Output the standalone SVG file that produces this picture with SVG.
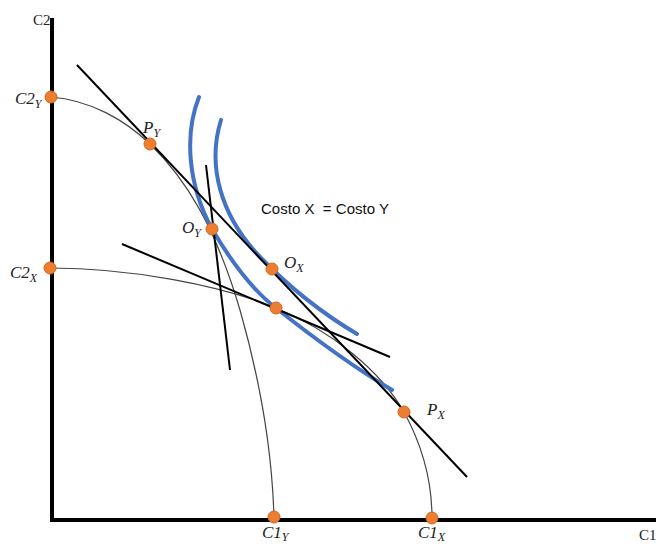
<svg xmlns="http://www.w3.org/2000/svg" width="657" height="544" viewBox="0 0 657 544">
<style>
.axis{stroke:#000;stroke-width:4;fill:none}
.ppf{stroke:#444;stroke-width:1.2;fill:none}
.iso{stroke:#4472C4;stroke-width:4;fill:none;stroke-linecap:round}
.tan{stroke:#000;stroke-width:2;fill:none}
.pt{fill:#ED7D31;stroke:#D0661F;stroke-width:1}
.lbl{font-family:"Liberation Serif","DejaVu Serif",serif;font-style:italic;font-size:17px;fill:#222}
.sub{font-size:12px}
.ax{font-family:"Liberation Serif","DejaVu Serif",serif;font-size:15px;fill:#222}
.note{font-family:"Liberation Sans","DejaVu Sans",sans-serif;font-size:15px;fill:#111}
</style>
<rect width="657" height="544" fill="#fff"/>
<g id="axes">
<line class="axis" x1="52" y1="18" x2="52" y2="522"/>
<line class="axis" x1="50" y1="520" x2="656" y2="520"/>
<text class="ax" x="33" y="25">C2</text>
<text class="ax" x="639" y="540">C1</text>
</g>
<g id="connectors">
<path id="ppfY" class="ppf" d="M51,97 C90,100 125,120 150,144 C185,178 215,225 240,310 C260,380 272,450 274,517"/>
<path id="ppfX" class="ppf" d="M50,268 C130,268 220,285 276,308 C330,330 380,370 404,412 C422,445 432,480 432,518"/>
<path id="isoY" class="iso" d="M199,97 C184,135 188,185 212,229 C235,268 255,292 276,308 C310,335 350,365 392,390"/>
<path id="isoX" class="iso" d="M221,120 C207,165 220,215 260,257 C290,288 320,312 357,334"/>
<line class="tan" x1="77" y1="65" x2="467" y2="477"/>
<line class="tan" x1="206" y1="165" x2="230" y2="370"/>
<line class="tan" x1="122" y1="244" x2="390" y2="357"/>
</g>
<g id="C2Y"><circle class="pt" cx="51" cy="97" r="6"/><text class="lbl" x="15" y="104">C2<tspan class="sub" dy="4">Y</tspan></text></g>
<g id="C2X"><circle class="pt" cx="50" cy="268" r="6"/><text class="lbl" x="10" y="278">C2<tspan class="sub" dy="4">X</tspan></text></g>
<g id="PY"><circle class="pt" cx="150" cy="144" r="6"/><text class="lbl" x="143" y="133">P<tspan class="sub" dy="4">Y</tspan></text></g>
<g id="OY"><circle class="pt" cx="212" cy="229" r="6"/><text class="lbl" x="182" y="233">O<tspan class="sub" dy="4">Y</tspan></text></g>
<g id="OX"><circle class="pt" cx="272" cy="269" r="6"/><text class="lbl" x="284" y="268">O<tspan class="sub" dy="4">X</tspan></text></g>
<g id="E"><circle class="pt" cx="276" cy="308" r="6"/></g>
<g id="PX"><circle class="pt" cx="404" cy="412" r="6"/><text class="lbl" x="427" y="415">P<tspan class="sub" dy="4">X</tspan></text></g>
<g id="C1Y"><circle class="pt" cx="274" cy="517" r="6"/><text class="lbl" x="262" y="538">C1<tspan class="sub" dy="3">Y</tspan></text></g>
<g id="C1X"><circle class="pt" cx="432" cy="518" r="6"/><text class="lbl" x="418" y="538">C1<tspan class="sub" dy="3">X</tspan></text></g>
<g id="note"><text class="note" x="261" y="214" xml:space="preserve" textLength="128" lengthAdjust="spacingAndGlyphs">Costo X  = Costo Y</text></g>
</svg>
